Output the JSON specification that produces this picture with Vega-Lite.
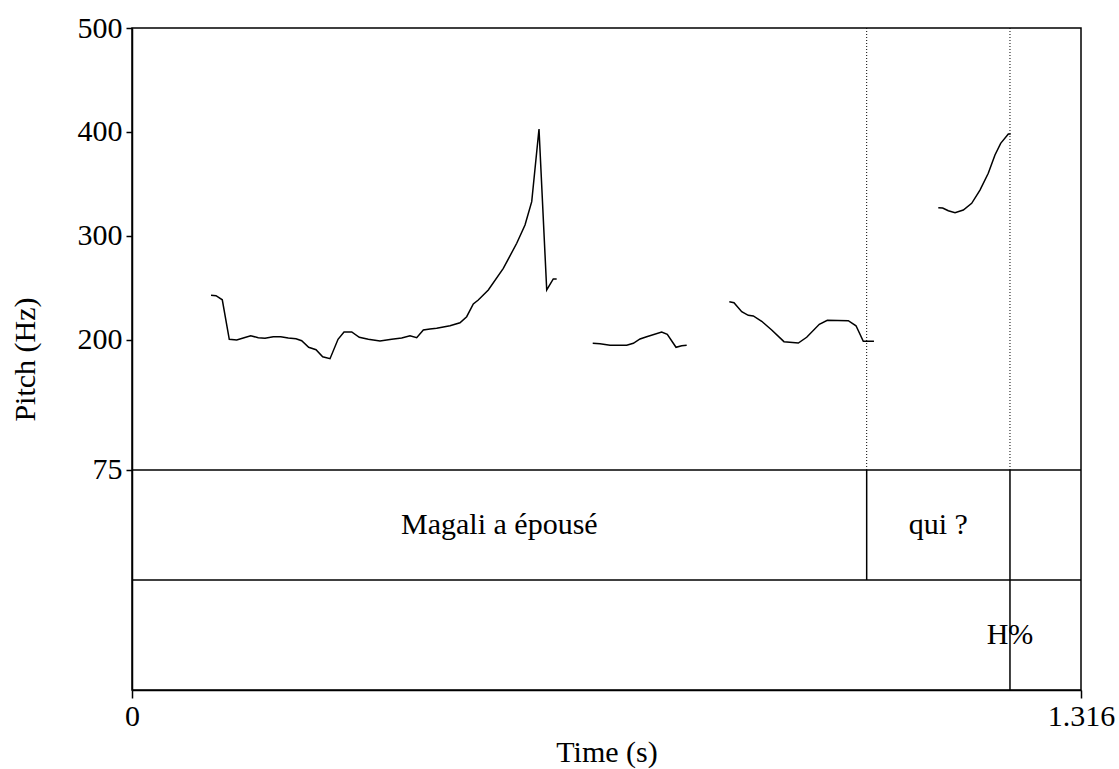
{
  "$schema": "https://vega.github.io/schema/vega-lite/v6.json",
  "width": 949,
  "height": 662,
  "autosize": {"type": "none"},
  "padding": {"left": 132, "top": 28, "right": 38, "bottom": 79},
  "background": "white",
  "config": {
    "view": {"stroke": "black", "strokeWidth": 1.5},
    "font": "Liberation Serif",
    "axis": {
      "labelFont": "Liberation Serif",
      "titleFont": "Liberation Serif",
      "labelFontSize": 30,
      "titleFontSize": 30,
      "titleFontWeight": "normal",
      "labelColor": "black",
      "titleColor": "black",
      "domainColor": "black",
      "tickColor": "black",
      "domainWidth": 1.5,
      "tickWidth": 1.5,
      "grid": false
    }
  },
  "datasets": {
    "pitch": [
      {"seg": 1, "t": 0.1096, "hz": 243.0},
      {"seg": 1, "t": 0.1165, "hz": 242.6},
      {"seg": 1, "t": 0.1252, "hz": 238.7},
      {"seg": 1, "t": 0.1349, "hz": 200.7},
      {"seg": 1, "t": 0.1452, "hz": 200.0},
      {"seg": 1, "t": 0.1543, "hz": 201.9},
      {"seg": 1, "t": 0.1646, "hz": 204.1},
      {"seg": 1, "t": 0.1751, "hz": 202.2},
      {"seg": 1, "t": 0.1844, "hz": 201.6},
      {"seg": 1, "t": 0.1959, "hz": 203.2},
      {"seg": 1, "t": 0.2062, "hz": 203.2},
      {"seg": 1, "t": 0.2167, "hz": 201.9},
      {"seg": 1, "t": 0.2274, "hz": 201.2},
      {"seg": 1, "t": 0.2353, "hz": 199.3},
      {"seg": 1, "t": 0.2450, "hz": 193.0},
      {"seg": 1, "t": 0.2552, "hz": 190.7},
      {"seg": 1, "t": 0.2644, "hz": 183.9},
      {"seg": 1, "t": 0.2746, "hz": 182.0},
      {"seg": 1, "t": 0.2857, "hz": 200.7},
      {"seg": 1, "t": 0.2940, "hz": 207.7},
      {"seg": 1, "t": 0.3047, "hz": 207.7},
      {"seg": 1, "t": 0.3152, "hz": 202.6},
      {"seg": 1, "t": 0.3277, "hz": 200.7},
      {"seg": 1, "t": 0.3439, "hz": 199.0},
      {"seg": 1, "t": 0.3601, "hz": 200.7},
      {"seg": 1, "t": 0.3740, "hz": 201.9},
      {"seg": 1, "t": 0.3855, "hz": 204.1},
      {"seg": 1, "t": 0.3948, "hz": 202.2},
      {"seg": 1, "t": 0.4040, "hz": 209.6},
      {"seg": 1, "t": 0.4132, "hz": 210.6},
      {"seg": 1, "t": 0.4225, "hz": 211.2},
      {"seg": 1, "t": 0.4410, "hz": 213.7},
      {"seg": 1, "t": 0.4548, "hz": 216.6},
      {"seg": 1, "t": 0.4641, "hz": 222.4},
      {"seg": 1, "t": 0.4733, "hz": 234.6},
      {"seg": 1, "t": 0.4802, "hz": 238.5},
      {"seg": 1, "t": 0.4941, "hz": 248.1},
      {"seg": 1, "t": 0.5149, "hz": 268.9},
      {"seg": 1, "t": 0.5335, "hz": 293.0},
      {"seg": 1, "t": 0.5450, "hz": 310.6},
      {"seg": 1, "t": 0.5543, "hz": 333.0},
      {"seg": 1, "t": 0.5644, "hz": 402.9},
      {"seg": 1, "t": 0.5751, "hz": 248.1},
      {"seg": 1, "t": 0.5842, "hz": 258.7},
      {"seg": 1, "t": 0.5889, "hz": 258.7},
      {"seg": 2, "t": 0.6389, "hz": 196.8},
      {"seg": 2, "t": 0.6490, "hz": 196.4},
      {"seg": 2, "t": 0.6629, "hz": 194.9},
      {"seg": 2, "t": 0.6860, "hz": 194.9},
      {"seg": 2, "t": 0.6952, "hz": 196.8},
      {"seg": 2, "t": 0.7045, "hz": 201.0},
      {"seg": 2, "t": 0.7137, "hz": 203.2},
      {"seg": 2, "t": 0.7345, "hz": 207.7},
      {"seg": 2, "t": 0.7423, "hz": 205.5},
      {"seg": 2, "t": 0.7544, "hz": 193.0},
      {"seg": 2, "t": 0.7623, "hz": 194.5},
      {"seg": 2, "t": 0.7692, "hz": 194.9},
      {"seg": 3, "t": 0.8283, "hz": 236.8},
      {"seg": 3, "t": 0.8348, "hz": 235.9},
      {"seg": 3, "t": 0.8455, "hz": 227.2},
      {"seg": 3, "t": 0.8546, "hz": 223.7},
      {"seg": 3, "t": 0.8616, "hz": 223.1},
      {"seg": 3, "t": 0.8732, "hz": 218.0},
      {"seg": 3, "t": 0.8871, "hz": 209.6},
      {"seg": 3, "t": 0.9041, "hz": 198.4},
      {"seg": 3, "t": 0.9240, "hz": 197.1},
      {"seg": 3, "t": 0.9356, "hz": 202.6},
      {"seg": 3, "t": 0.9531, "hz": 215.1},
      {"seg": 3, "t": 0.9642, "hz": 218.9},
      {"seg": 3, "t": 0.9933, "hz": 218.6},
      {"seg": 3, "t": 1.0040, "hz": 213.7},
      {"seg": 3, "t": 1.0141, "hz": 198.7},
      {"seg": 3, "t": 1.0289, "hz": 198.7},
      {"seg": 4, "t": 1.1181, "hz": 327.2},
      {"seg": 4, "t": 1.1242, "hz": 326.9},
      {"seg": 4, "t": 1.1320, "hz": 324.3},
      {"seg": 4, "t": 1.1413, "hz": 322.4},
      {"seg": 4, "t": 1.1528, "hz": 325.0},
      {"seg": 4, "t": 1.1644, "hz": 331.4},
      {"seg": 4, "t": 1.1759, "hz": 344.2},
      {"seg": 4, "t": 1.1874, "hz": 360.3},
      {"seg": 4, "t": 1.1967, "hz": 377.9},
      {"seg": 4, "t": 1.2046, "hz": 389.1},
      {"seg": 4, "t": 1.2152, "hz": 398.1},
      {"seg": 4, "t": 1.2185, "hz": 398.1}
    ],
    "tierLines": [
      {"level": 75},
      {"level": -30.8}
    ],
    "boundaries": [
      {"t": 1.0188, "top": 500, "bottom": 75},
      {"t": 1.2175, "top": 500, "bottom": 75}
    ],
    "tierBoundaries": [
      {"t": 1.0188, "top": 75, "bottom": -30.8},
      {"t": 1.2175, "top": 75, "bottom": -136.54}
    ],
    "labels": [
      {"t": 0.5094, "y": 22.1, "label": "Magali a épousé"},
      {"t": 1.1182, "y": 22.1, "label": "qui ?"},
      {"t": 1.2175, "y": -83.7, "label": "H%"}
    ]
  },
  "layer": [
    {
      "data": {"name": "boundaries"},
      "mark": {"type": "rule", "color": "black", "strokeWidth": 1, "strokeDash": [1, 2]},
      "encoding": {
        "x": {"field": "t", "type": "quantitative"},
        "y": {"field": "top", "type": "quantitative"},
        "y2": {"field": "bottom"}
      }
    },
    {
      "data": {"name": "tierLines"},
      "mark": {"type": "rule", "color": "black", "strokeWidth": 1.5},
      "encoding": {
        "y": {"field": "level", "type": "quantitative"}
      }
    },
    {
      "data": {"name": "tierBoundaries"},
      "mark": {"type": "rule", "color": "black", "strokeWidth": 1.5},
      "encoding": {
        "x": {"field": "t", "type": "quantitative"},
        "y": {"field": "top", "type": "quantitative"},
        "y2": {"field": "bottom"}
      }
    },
    {
      "data": {"name": "labels"},
      "mark": {"type": "text", "font": "Liberation Serif", "fontSize": 30, "color": "black", "align": "center", "baseline": "middle"},
      "encoding": {
        "x": {"field": "t", "type": "quantitative"},
        "y": {"field": "y", "type": "quantitative"},
        "text": {"field": "label"}
      }
    },
    {
      "data": {"name": "pitch"},
      "mark": {"type": "line", "color": "black", "strokeWidth": 1.5},
      "encoding": {
        "x": {
          "field": "t",
          "type": "quantitative",
          "scale": {"domain": [0, 1.316], "nice": false, "zero": false},
          "axis": {"title": "Time (s)", "values": [0, 1.316], "format": ".4~g", "tickSize": 8, "labelPadding": 3, "titlePadding": 6, "labelFlush": false}
        },
        "y": {
          "field": "hz",
          "type": "quantitative",
          "scale": {"domain": [-136.54, 500], "nice": false, "zero": false},
          "axis": {"title": "Pitch (Hz)", "values": [75, 200, 300, 400, 500], "tickSize": 6, "labelPadding": 4, "titlePadding": 37, "labelFlush": false}
        },
        "detail": {"field": "seg", "type": "nominal"}
      }
    }
  ],
  "resolve": {"scale": {"x": "shared", "y": "shared"}}
}
